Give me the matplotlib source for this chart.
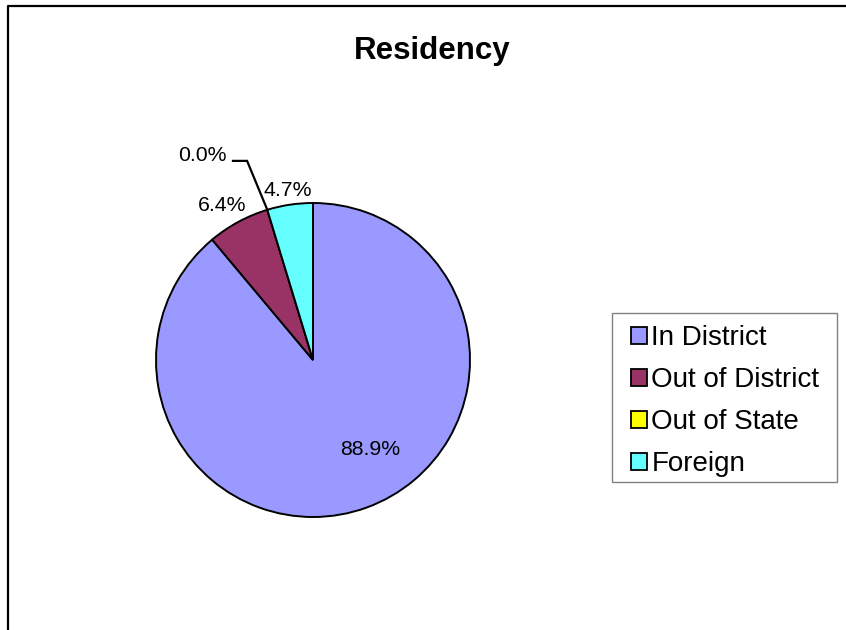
import numpy as np
import matplotlib.pyplot as plt
from matplotlib.lines import Line2D
from matplotlib.patches import Rectangle

plt.rcParams['font.family'] = ['Liberation Sans', 'DejaVu Sans']

# data
categories = ["In District", "Out of District", "Out of State", "Foreign"]
shares = [88.9, 6.4, 0.0, 4.7]
colors = ["#9999FF", "#993366", "#FFFF00", "#66FFFF"]

W, H = 846, 630
fig = plt.figure(figsize=(W / 100, H / 100), dpi=100)

# chart area border (only top and left visible)
bx, by = 7.5 / W, 1 - 5.5 / H
fig.add_artist(Line2D([bx, bx, 1.0], [0.0, by, by], transform=fig.transFigure,
                      color="black", linewidth=1.6))

fig.text(432 / W, 1 - 51 / H, "Residency", ha="center", va="center",
         fontsize=22.5, fontweight="bold")

ax = fig.add_axes([156 / W, 113 / H, 314 / W, 314 / H])
wedges, _ = ax.pie(shares, colors=colors, startangle=90, counterclock=False,
                   wedgeprops=dict(edgecolor="black", linewidth=1.4))
ax.set_xlim(-1, 1)
ax.set_ylim(-1, 1)
ax.set_aspect("equal")
ax.axis("off")

# data labels: distance from centre and angle shift per slice
label_dist = [0.673, 1.145, None, 1.094]
label_shift = [12.6, 2.0, 0.0, 0.0]
for w, v, d, s in zip(wedges, shares, label_dist, label_shift):
    mid = np.deg2rad((w.theta1 + w.theta2) / 2 + s)
    txt = f"{v:.1f}%"
    if d is None:
        # zero slice: leader line out to the label
        th = np.deg2rad(w.theta1)
        ex, ey = np.cos(th), np.sin(th)
        th2 = np.deg2rad(w.theta1 + 1.4)
        kx, ky = 1.336 * np.cos(th2), 1.336 * np.sin(th2)
        hx = kx - 0.09
        ax.plot([ex, kx, hx], [ey, ky, ky], color="black", linewidth=1.6,
                clip_on=False, solid_joinstyle="miter")
        ax.text(hx - 0.04, ky + 0.035, txt, ha="right", va="center",
                fontsize=15.3, clip_on=False)
    else:
        ax.text(d * np.cos(mid), d * np.sin(mid), txt, ha="center",
                va="center", fontsize=15.3, clip_on=False)

# legend box drawn separately so the padding can match
fig.add_artist(Rectangle((612 / W, 1 - 482 / H), 225 / W, 169 / H,
                         transform=fig.transFigure, facecolor="white",
                         edgecolor="#808080", linewidth=1.0))
leg = fig.legend(wedges, categories, loc="upper left",
                 bbox_to_anchor=(631 / W, 1 - 325 / H), fontsize=20,
                 frameon=False, handlelength=0.58, handleheight=0.58,
                 handletextpad=0.15, labelspacing=0.58, borderpad=0,
                 borderaxespad=0)
for h in leg.legend_handles:
    h.set_edgecolor("black")
    h.set_linewidth(1.3)

fig.savefig("out.png", dpi=100)
